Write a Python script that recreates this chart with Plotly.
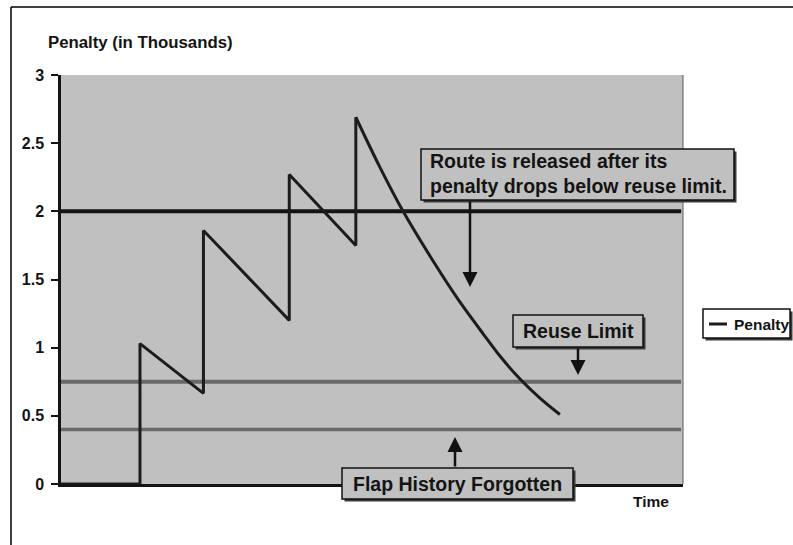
import plotly.graph_objects as go

# ---- data -----------------------------------------------------------------
# Penalty accumulation: each flap adds to the penalty, which then decays.
flap_time = [0, 12.7, 12.7, 22.9, 22.9, 36.7, 36.7, 47.4, 47.4]
flap_penalty = [0, 0, 1.03, 0.665, 1.86, 1.20, 2.27, 1.75, 2.69]

# Decay after the last flap
decay_time = [47.4, 51.2, 55.0, 59.9, 63.9, 67.9, 70.9, 73.8, 77.0, 80.2]
decay_penalty = [2.69, 2.33, 2.00, 1.63, 1.35, 1.10, 0.92, 0.77, 0.63, 0.51]

suppress_limit = 2.0
reuse_limit = 0.75
forget_limit = 0.40

y_ticks = [0, 0.5, 1, 1.5, 2, 2.5, 3]
y_tick_text = ["0", "0.5", "1", "1.5", "2", "2.5", "3"]

# ---- layout geometry (pixels) ---------------------------------------------
W, H = 793, 545
L, R, T, B = 61, 110, 75, 61
PW, PH = W - L - R, H - T - B


def px(x):
    return (x - L) / PW


def py(y):
    return (H - B - y) / PH


FONT = "Liberation Sans, Arial, sans-serif"
INK = "#141414"

fig = go.Figure()

fig.add_trace(go.Scatter(
    x=flap_time, y=flap_penalty, mode="lines", name="Penalty",
    line=dict(color="#1c1c1c", width=3), legendgroup="p", showlegend=False,
))
fig.add_trace(go.Scatter(
    x=decay_time, y=decay_penalty, mode="lines", name="Penalty",
    line=dict(color="#1c1c1c", width=3, shape="spline", smoothing=1.0),
    legendgroup="p", showlegend=False,
))

shapes = []
# threshold lines
for val, col, w in [(suppress_limit, "#141414", 4),
                    (reuse_limit, "#6a6a6a", 4),
                    (forget_limit, "#6a6a6a", 3.5)]:
    shapes.append(dict(type="line", xref="x domain", yref="y",
                       x0=0, x1=0.997, y0=val, y1=val,
                       line=dict(color=col, width=w), layer="below"))

# right edge of plotting area
shapes.append(dict(type="line", xref="paper", yref="paper",
                   x0=1, x1=1, y0=0, y1=1,
                   line=dict(color="#5a5a5a", width=1)))

# outer frame (top and left)
shapes.append(dict(type="line", xref="paper", yref="paper",
                   x0=px(11), x1=px(800), y0=py(7), y1=py(7),
                   line=dict(color="black", width=1.5)))
shapes.append(dict(type="line", xref="paper", yref="paper",
                   x0=px(11), x1=px(11), y0=py(7), y1=py(550),
                   line=dict(color="black", width=1.5)))


def callout_box(x0, y0, x1, y1, fill="#c0c0c0"):
    shapes.append(dict(type="rect", xref="paper", yref="paper",
                       x0=px(x0 + 2.5), x1=px(x1 + 2.5),
                       y0=py(y0 + 2.5), y1=py(y1 + 2.5),
                       fillcolor="#3a3a3a", line=dict(width=0), layer="above"))
    shapes.append(dict(type="rect", xref="paper", yref="paper",
                       x0=px(x0), x1=px(x1), y0=py(y0), y1=py(y1),
                       fillcolor=fill, line=dict(color="#111111", width=1.5),
                       layer="above"))


callout_box(421, 149, 734, 200)
callout_box(513, 315, 643, 347)
callout_box(342, 468, 573, 499)
callout_box(703, 309, 790, 338, fill="white")

# legend sample line
shapes.append(dict(type="line", xref="paper", yref="paper",
                   x0=px(709), x1=px(727), y0=py(324), y1=py(324),
                   line=dict(color="#1c1c1c", width=3), layer="above"))

annotations = []


def label(text, x, y, size, xanchor="left", align="left"):
    annotations.append(dict(
        text=text, xref="paper", yref="paper", x=px(x), y=py(y),
        xanchor=xanchor, yanchor="middle", align=align, showarrow=False,
        font=dict(family=FONT, size=size, color=INK, weight="bold"),
    ))


def arrow(x, y_tip, y_tail):
    annotations.append(dict(
        text="", xref="paper", yref="paper", x=px(x), y=py(y_tip),
        ax=0, ay=y_tail - y_tip, showarrow=True,
        arrowhead=2, arrowsize=1.2, arrowwidth=2.5, arrowcolor="#111111",
        standoff=0,
    ))


label("Penalty (in Thousands)", 46, 42, 16.8)
label("Time", 631, 501, 15.5)
label("Route is released after its<br>penalty drops below reuse limit.",
      428, 173, 19.5)
label("Reuse Limit", 578, 331, 19.5, xanchor="center", align="center")
label("Flap History Forgotten", 458, 483.5, 19.5, xanchor="center", align="center")
label("Penalty", 732, 324, 15.5)

arrow(470, 287, 200)
arrow(578, 375, 347)
arrow(455, 437, 468)

fig.update_layout(
    width=W, height=H,
    margin=dict(l=L, r=R, t=T, b=B, autoexpand=False),
    paper_bgcolor="white", plot_bgcolor="#c0c0c0",
    showlegend=False,
    shapes=shapes, annotations=annotations,
    xaxis=dict(range=[0, 100], showgrid=False, zeroline=False,
               showticklabels=False, ticks="",
               showline=True, linecolor="#141414", linewidth=2.5),
    yaxis=dict(range=[0, 3], tickvals=y_ticks, ticktext=y_tick_text,
               showgrid=False, zeroline=False,
               ticks="outside", ticklen=7, tickwidth=1.5, tickcolor="#141414",
               ticklabelstandoff=4,
               tickfont=dict(family=FONT, size=16, color=INK, weight="bold"),
               showline=True, linecolor="#141414", linewidth=2.5),
)

fig.write_html("out.html")
